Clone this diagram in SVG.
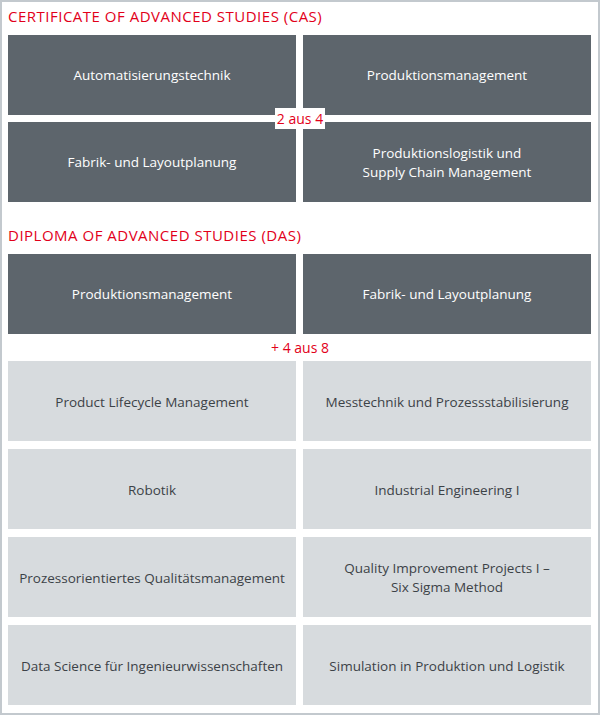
<svg xmlns="http://www.w3.org/2000/svg" width="600" height="715" viewBox="0 0 600 715">
<style>
.d{fill:#5d656c}.l{fill:#d7dbde}
text{font-family:"Open Sans","Liberation Sans",sans-serif;font-size:13.5px;text-anchor:middle}
.dt{fill:#fff}.lt{fill:#3c4247}
.h{fill:#e2001a;font-size:15px;text-anchor:start;letter-spacing:0.5px}
.r{fill:#e2001a;font-size:14px}
</style>
<rect x="1" y="1" width="598" height="713" fill="#fff" stroke="#c3c9ce" stroke-width="2"/>
<text class="h" x="8" y="22">CERTIFICATE OF ADVANCED STUDIES (CAS)</text>
<g id="cas1"><rect class="d" x="8" y="35" width="288" height="80"/><text class="dt" x="152" y="80">Automatisierungstechnik</text></g>
<g id="cas2"><rect class="d" x="303" y="35" width="288" height="80"/><text class="dt" x="447" y="80">Produktionsmanagement</text></g>
<g id="cas3"><rect class="d" x="8" y="122" width="288" height="80"/><text class="dt" x="152" y="167">Fabrik- und Layoutplanung</text></g>
<g id="cas4"><rect class="d" x="303" y="122" width="288" height="80"/><text class="dt" x="447" y="158">Produktionslogistik und</text><text class="dt" x="447" y="177">Supply Chain Management</text></g>
<g id="cas-label"><rect x="275" y="108" width="50" height="21" fill="#fff"/><text class="r" x="300" y="124">2 aus 4</text></g>
<text class="h" x="8" y="241">DIPLOMA OF ADVANCED STUDIES (DAS)</text>
<g id="das1"><rect class="d" x="8" y="254" width="288" height="80"/><text class="dt" x="152" y="299">Produktionsmanagement</text></g>
<g id="das2"><rect class="d" x="303" y="254" width="288" height="80"/><text class="dt" x="447" y="299">Fabrik- und Layoutplanung</text></g>
<g id="das-label"><text class="r" x="300" y="353">+ 4 aus 8</text></g>
<g id="e1"><rect class="l" x="8" y="361" width="288" height="80"/><text class="lt" x="152" y="407">Product Lifecycle Management</text></g>
<g id="e2"><rect class="l" x="303" y="361" width="288" height="80"/><text class="lt" x="447" y="407">Messtechnik und Prozessstabilisierung</text></g>
<g id="e3"><rect class="l" x="8" y="449" width="288" height="80"/><text class="lt" x="152" y="495">Robotik</text></g>
<g id="e4"><rect class="l" x="303" y="449" width="288" height="80"/><text class="lt" x="447" y="495">Industrial Engineering I</text></g>
<g id="e5"><rect class="l" x="8" y="537" width="288" height="80"/><text class="lt" x="152" y="583">Prozessorientiertes Qualitätsmanagement</text></g>
<g id="e6"><rect class="l" x="303" y="537" width="288" height="80"/><text class="lt" x="447" y="573">Quality Improvement Projects I –</text><text class="lt" x="447" y="592">Six Sigma Method</text></g>
<g id="e7"><rect class="l" x="8" y="625" width="288" height="80"/><text class="lt" x="152" y="671">Data Science für Ingenieurwissenschaften</text></g>
<g id="e8"><rect class="l" x="303" y="625" width="288" height="80"/><text class="lt" x="447" y="671">Simulation in Produktion und Logistik</text></g>
<g id="connectors"/>
</svg>
